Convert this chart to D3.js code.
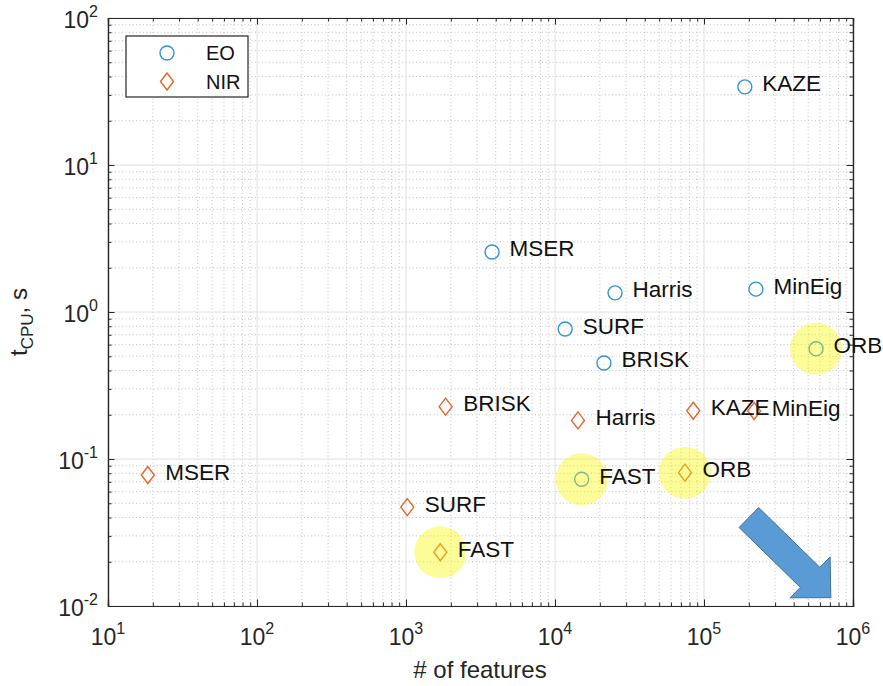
<!DOCTYPE html>
<html>
<head>
<meta charset="utf-8">
<script src="https://cdn.jsdelivr.net/npm/d3@7"></script>
<style>
  body { margin: 0; background: #fff; }
  svg { display: block; font-family: "Liberation Sans", Arial, Helvetica, sans-serif; }
</style>
</head>
<body>
<svg id="chart" width="883" height="686"></svg>
<script>
// Detector names and measurements: number of features vs. CPU time (s)
const eoNames  = ["KAZE", "MSER", "Harris", "MinEig", "SURF", "BRISK", "ORB", "FAST"];
const eoFeat   = [1.88e5, 3780, 25300, 2.23e5, 11700, 21300, 5.65e5, 15100];
const eoTime   = [34, 2.56, 1.35, 1.43, 0.766, 0.45, 0.562, 0.0728];

const nirNames = ["MSER", "BRISK", "Harris", "KAZE", "MinEig", "ORB", "SURF", "FAST"];
const nirFeat  = [18.5, 1845, 14260, 84700, 2.17e5, 74500, 1020, 1698];
const nirTime  = [0.0778, 0.227, 0.183, 0.213, 0.212, 0.0807, 0.0471, 0.0232];

// Detectors emphasised with a highlight disc
const highlighted = ["ORB", "FAST"];

// Axis ticks (decades) and legend entries
const xTickExp = [1, 2, 3, 4, 5, 6];
const yTickExp = [-2, -1, 0, 1, 2];
const legendLabels = ["EO", "NIR"];

// Direction arrow: tail and tip in data units
const arrowFrom = [2.0e5, 0.040];
const arrowTo   = [7.1e5, 0.0114];

const colEO = "#3392d6", colNIR = "#e2682f";
const L = 108, R = 853, T = 18, B = 606;

const svg = d3.select("#chart");
const x = d3.scaleLog().domain([10, 1e6]).range([L, R]);
const y = d3.scaleLog().domain([0.01, 100]).range([B, T]);

// minor (2..9 per decade) and major tick values
function minors(lo, hi) {
  const out = [];
  for (let e = lo; e < hi; e++) for (let k = 2; k <= 9; k++) out.push(k * Math.pow(10, e));
  return out;
}
const xMinor = minors(1, 6), yMinor = minors(-2, 2);
const xMajor = xTickExp.map(e => Math.pow(10, e));
const yMajor = yTickExp.map(e => Math.pow(10, e));

const grid = svg.append("g");
grid.selectAll(".xm").data(xMinor).join("line")
  .attr("x1", d => x(d)).attr("x2", d => x(d)).attr("y1", T).attr("y2", B)
  .attr("stroke", "#c4c4c4").attr("stroke-width", 1).attr("stroke-dasharray", "1,2.5");
grid.selectAll(".ym").data(yMinor).join("line")
  .attr("y1", d => y(d)).attr("y2", d => y(d)).attr("x1", L).attr("x2", R)
  .attr("stroke", "#c4c4c4").attr("stroke-width", 1).attr("stroke-dasharray", "1,2.5");
grid.selectAll(".xM").data(xMajor).join("line")
  .attr("x1", d => x(d)).attr("x2", d => x(d)).attr("y1", T).attr("y2", B)
  .attr("stroke", "#e0e0e0").attr("stroke-width", 1);
grid.selectAll(".yM").data(yMajor).join("line")
  .attr("y1", d => y(d)).attr("y2", d => y(d)).attr("x1", L).attr("x2", R)
  .attr("stroke", "#e0e0e0").attr("stroke-width", 1);

// Axes on all four sides with inward ticks
const axisCol = "#262626";
function tickAxis(axisFn, scale, major, minor, transform) {
  const g = svg.append("g").attr("transform", transform);
  g.call(axisFn(scale).tickValues(minor).tickSize(-3.5).tickFormat(""));
  const g2 = svg.append("g").attr("transform", transform);
  g2.call(axisFn(scale).tickValues(major).tickSize(-6.5).tickFormat(""));
  [g, g2].forEach(gg => {
    gg.selectAll("path").attr("stroke", axisCol);
    gg.selectAll("line").attr("stroke", axisCol);
  });
}
tickAxis(d3.axisBottom, x, xMajor, xMinor, `translate(0,${B})`);
tickAxis(d3.axisTop, x, xMajor, xMinor, `translate(0,${T})`);
tickAxis(d3.axisLeft, y, yMajor, yMinor, `translate(${L},0)`);
tickAxis(d3.axisRight, y, yMajor, yMinor, `translate(${R},0)`);
svg.selectAll(".domain").attr("stroke", axisCol).attr("stroke-width", 1.2);

// Tick labels with superscript exponents
const xl = svg.append("g").attr("fill", "#262626");
xTickExp.forEach(e => {
  const t = xl.append("text").attr("x", x(Math.pow(10, e))).attr("y", 645)
    .attr("text-anchor", "middle").attr("font-size", 23);
  t.append("tspan").text("10");
  t.append("tspan").attr("dy", -11).attr("font-size", 16).text(String(e));
});
const yl = svg.append("g").attr("fill", "#262626");
yTickExp.forEach(e => {
  const t = yl.append("text").attr("x", 98).attr("y", y(Math.pow(10, e)) + 10)
    .attr("text-anchor", "end").attr("font-size", 23);
  t.append("tspan").text("10");
  t.append("tspan").attr("dy", -11).attr("font-size", 16).text(String(e));
});

// Axis titles
svg.append("text").attr("x", 480).attr("y", 678).attr("text-anchor", "middle")
  .attr("font-size", 24).attr("fill", "#262626").text("# of features");
const yt = svg.append("text").attr("transform", "translate(27,322) rotate(-90)")
  .attr("text-anchor", "middle").attr("font-size", 24).attr("fill", "#262626");
yt.append("tspan").text("t");
yt.append("tspan").attr("dy", 6).attr("font-size", 17).text("CPU");
yt.append("tspan").attr("dy", -6).text(", s");

// Series records
const eo = eoNames.map((n, i) => ({ name: n, fx: eoFeat[i], t: eoTime[i] }));
const nir = nirNames.map((n, i) => ({ name: n, fx: nirFeat[i], t: nirTime[i] }));

const diamond = "M0,-8.5L6.5,0L0,8.5L-6.5,0Z";

svg.append("g").selectAll("circle").data(eo).join("circle")
  .attr("cx", d => x(d.fx)).attr("cy", d => y(d.t)).attr("r", 7)
  .attr("fill", "none").attr("stroke", colEO).attr("stroke-width", 1.4);
svg.append("g").selectAll("path").data(nir).join("path")
  .attr("transform", d => `translate(${x(d.fx)},${y(d.t)})`).attr("d", diamond)
  .attr("fill", "none").attr("stroke", colNIR).attr("stroke-width", 1.4);

// Highlight discs over the emphasised detectors
const hl = eo.concat(nir).filter(d => highlighted.includes(d.name));
svg.append("g").selectAll("circle").data(hl).join("circle")
  .attr("cx", d => x(d.fx)).attr("cy", d => y(d.t)).attr("r", 26)
  .attr("fill", "#f8f800").attr("fill-opacity", 0.4);

// Point labels
const lab = svg.append("g").attr("font-size", 22.5).attr("fill", "#111");
lab.selectAll("text").data(eo.concat(nir)).join("text")
  .attr("x", d => x(d.fx) + 17.5).attr("y", d => y(d.t) + 4.5).text(d => d.name);

// Block arrow built along the tail→tip direction
(function () {
  const x0 = x(arrowFrom[0]), y0 = y(arrowFrom[1]);
  const x1 = x(arrowTo[0]), y1 = y(arrowTo[1]);
  const len = Math.hypot(x1 - x0, y1 - y0);
  const ux = (x1 - x0) / len, uy = (y1 - y0) / len;
  const px = -uy, py = ux;
  const sw = 14, hw = 28.6, hl = 29;
  const bx = x1 - ux * hl, by = y1 - uy * hl;
  const pts = [
    [x0 + px * sw, y0 + py * sw],
    [bx + px * sw, by + py * sw],
    [bx + px * hw, by + py * hw],
    [x1, y1],
    [bx - px * hw, by - py * hw],
    [bx - px * sw, by - py * sw],
    [x0 - px * sw, y0 - py * sw]
  ];
  svg.append("polygon").attr("points", pts.map(p => p.join(",")).join(" "))
    .attr("fill", "#5b9bd5").attr("stroke", "#41719c").attr("stroke-width", 1);
})();

// Legend
const lg = svg.append("g");
lg.append("rect").attr("x", 126).attr("y", 36).attr("width", 122).attr("height", 61)
  .attr("fill", "#fff").attr("stroke", axisCol).attr("stroke-width", 1.2);
lg.append("circle").attr("cx", 167).attr("cy", 53).attr("r", 7)
  .attr("fill", "none").attr("stroke", colEO).attr("stroke-width", 1.4);
lg.append("path").attr("transform", "translate(167,81.5)").attr("d", diamond)
  .attr("fill", "none").attr("stroke", colNIR).attr("stroke-width", 1.4);
lg.selectAll("text").data(legendLabels).join("text")
  .attr("x", 206).attr("y", (d, i) => 60 + i * 28.5)
  .attr("font-size", 20).attr("fill", "#111").text(d => d);
</script>
</body>
</html>
